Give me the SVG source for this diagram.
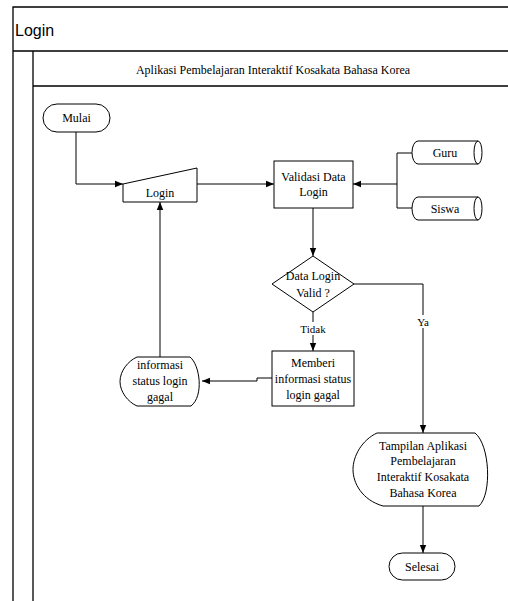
<svg xmlns="http://www.w3.org/2000/svg" width="508" height="601" viewBox="0 0 508 601">
<style>
.s{fill:#fff;stroke:#000;stroke-width:1}
.f{stroke:#000;stroke-width:1.3;fill:none}
.c{fill:none;stroke:#000;stroke-width:1}
.t{font-family:"Liberation Serif","Times New Roman",serif;font-size:12px;fill:#000;text-anchor:middle}
.lb{font-family:"Liberation Serif","Times New Roman",serif;font-size:11px;fill:#000;text-anchor:middle}
</style>
<defs>
<marker id="a" viewBox="0 0 8 8" refX="8" refY="4" markerWidth="8" markerHeight="8" markerUnits="userSpaceOnUse" orient="auto">
<path d="M0,0.8 L8,4 L0,7.2 Z" fill="#000"/>
</marker>
</defs>
<rect width="508" height="601" fill="#fff"/>
<g id="pool">
<path class="f" d="M13,601 V7 H508 M13,51 H508 M33,51 V601 M33,86 H508"/>
<text x="15" y="36" font-family="'Liberation Sans',Arial,sans-serif" font-size="16" fill="#000">Login</text>
<text x="273" y="74" class="t" font-size="11.5">Aplikasi Pembelajaran Interaktif Kosakata Bahasa Korea</text>
</g>
<g id="connectors">
<path class="c" d="M76,132 V184 H123" marker-end="url(#a)"/>
<path class="c" d="M197,184 H274" marker-end="url(#a)"/>
<path class="c" d="M412,153 H397 V208 H412 M397,184 H353" marker-end="url(#a)"/>
<path class="c" d="M313,208 V256" marker-end="url(#a)"/>
<path class="c" d="M313,312 V351" marker-end="url(#a)"/>
<path class="c" d="M354,284 H423 V433" marker-end="url(#a)"/>
<path class="c" d="M272,378 H257 V381 H202" marker-end="url(#a)"/>
<path class="c" d="M160,357 V202" marker-end="url(#a)"/>
<path class="c" d="M423,506 V553" marker-end="url(#a)"/>
<rect x="300" y="322" width="26" height="13" fill="#fff"/>
<text x="313" y="333" class="lb">Tidak</text>
<rect x="415" y="315" width="16" height="13" fill="#fff"/>
<text x="423" y="326" class="lb">Ya</text>
</g>
<g id="mulai">
<rect class="s" x="43" y="104" width="67" height="28" rx="14"/>
<text x="76.5" y="122" class="t">Mulai</text>
</g>
<g id="login">
<path class="s" d="M123,184 L197,168 V202 H123 Z"/>
<text x="160" y="197" class="t">Login</text>
</g>
<g id="validasi">
<rect class="s" x="274" y="161" width="79" height="47"/>
<text x="313.5" y="181" class="t">Validasi Data</text>
<text x="313.5" y="196" class="t">Login</text>
</g>
<g id="guru">
<path class="s" d="M418,141 H478 A4,11.5 0 0 1 478,164 H418 A6,11.5 0 0 1 418,141 Z"/>
<path class="c" d="M478,141 A4,11.5 0 0 0 478,164"/>
<text x="445" y="157" class="t">Guru</text>
</g>
<g id="siswa">
<path class="s" d="M418,197 H478 A4,11.5 0 0 1 478,220 H418 A6,11.5 0 0 1 418,197 Z"/>
<path class="c" d="M478,197 A4,11.5 0 0 0 478,220"/>
<text x="445" y="213" class="t">Siswa</text>
</g>
<g id="decision">
<path class="s" d="M313,256 L354,284 L313,312 L272,284 Z"/>
<text x="313" y="280" class="t">Data Login</text>
<text x="313" y="297" class="t">Valid ?</text>
</g>
<g id="memberi">
<rect class="s" x="272" y="351" width="82" height="55"/>
<text x="313" y="367" class="t">Memberi</text>
<text x="313" y="383" class="t">informasi status</text>
<text x="313" y="399" class="t">login gagal</text>
</g>
<g id="informasi">
<path class="s" d="M137,357 H190 C200,365 204,396 191,406 H137 C128,402 120,392 120,381.5 C120,371 128,361 137,357 Z"/>
<text x="160" y="369" class="t">informasi</text>
<text x="160" y="385" class="t">status login</text>
<text x="160" y="401" class="t">gagal</text>
</g>
<g id="tampilan">
<path class="s" d="M377,433 H475 C490,445 492,494 479,506 H383 C362,500 353,483 353,469.5 C353,456 362,440 377,433 Z"/>
<text x="423" y="450" class="t">Tampilan Aplikasi</text>
<text x="423" y="465" class="t">Pembelajaran</text>
<text x="423" y="481" class="t">Interaktif Kosakata</text>
<text x="423" y="497" class="t">Bahasa Korea</text>
</g>
<g id="selesai">
<rect class="s" x="389" y="553" width="66" height="27" rx="13.5"/>
<text x="422" y="571" class="t">Selesai</text>
</g>
</svg>
